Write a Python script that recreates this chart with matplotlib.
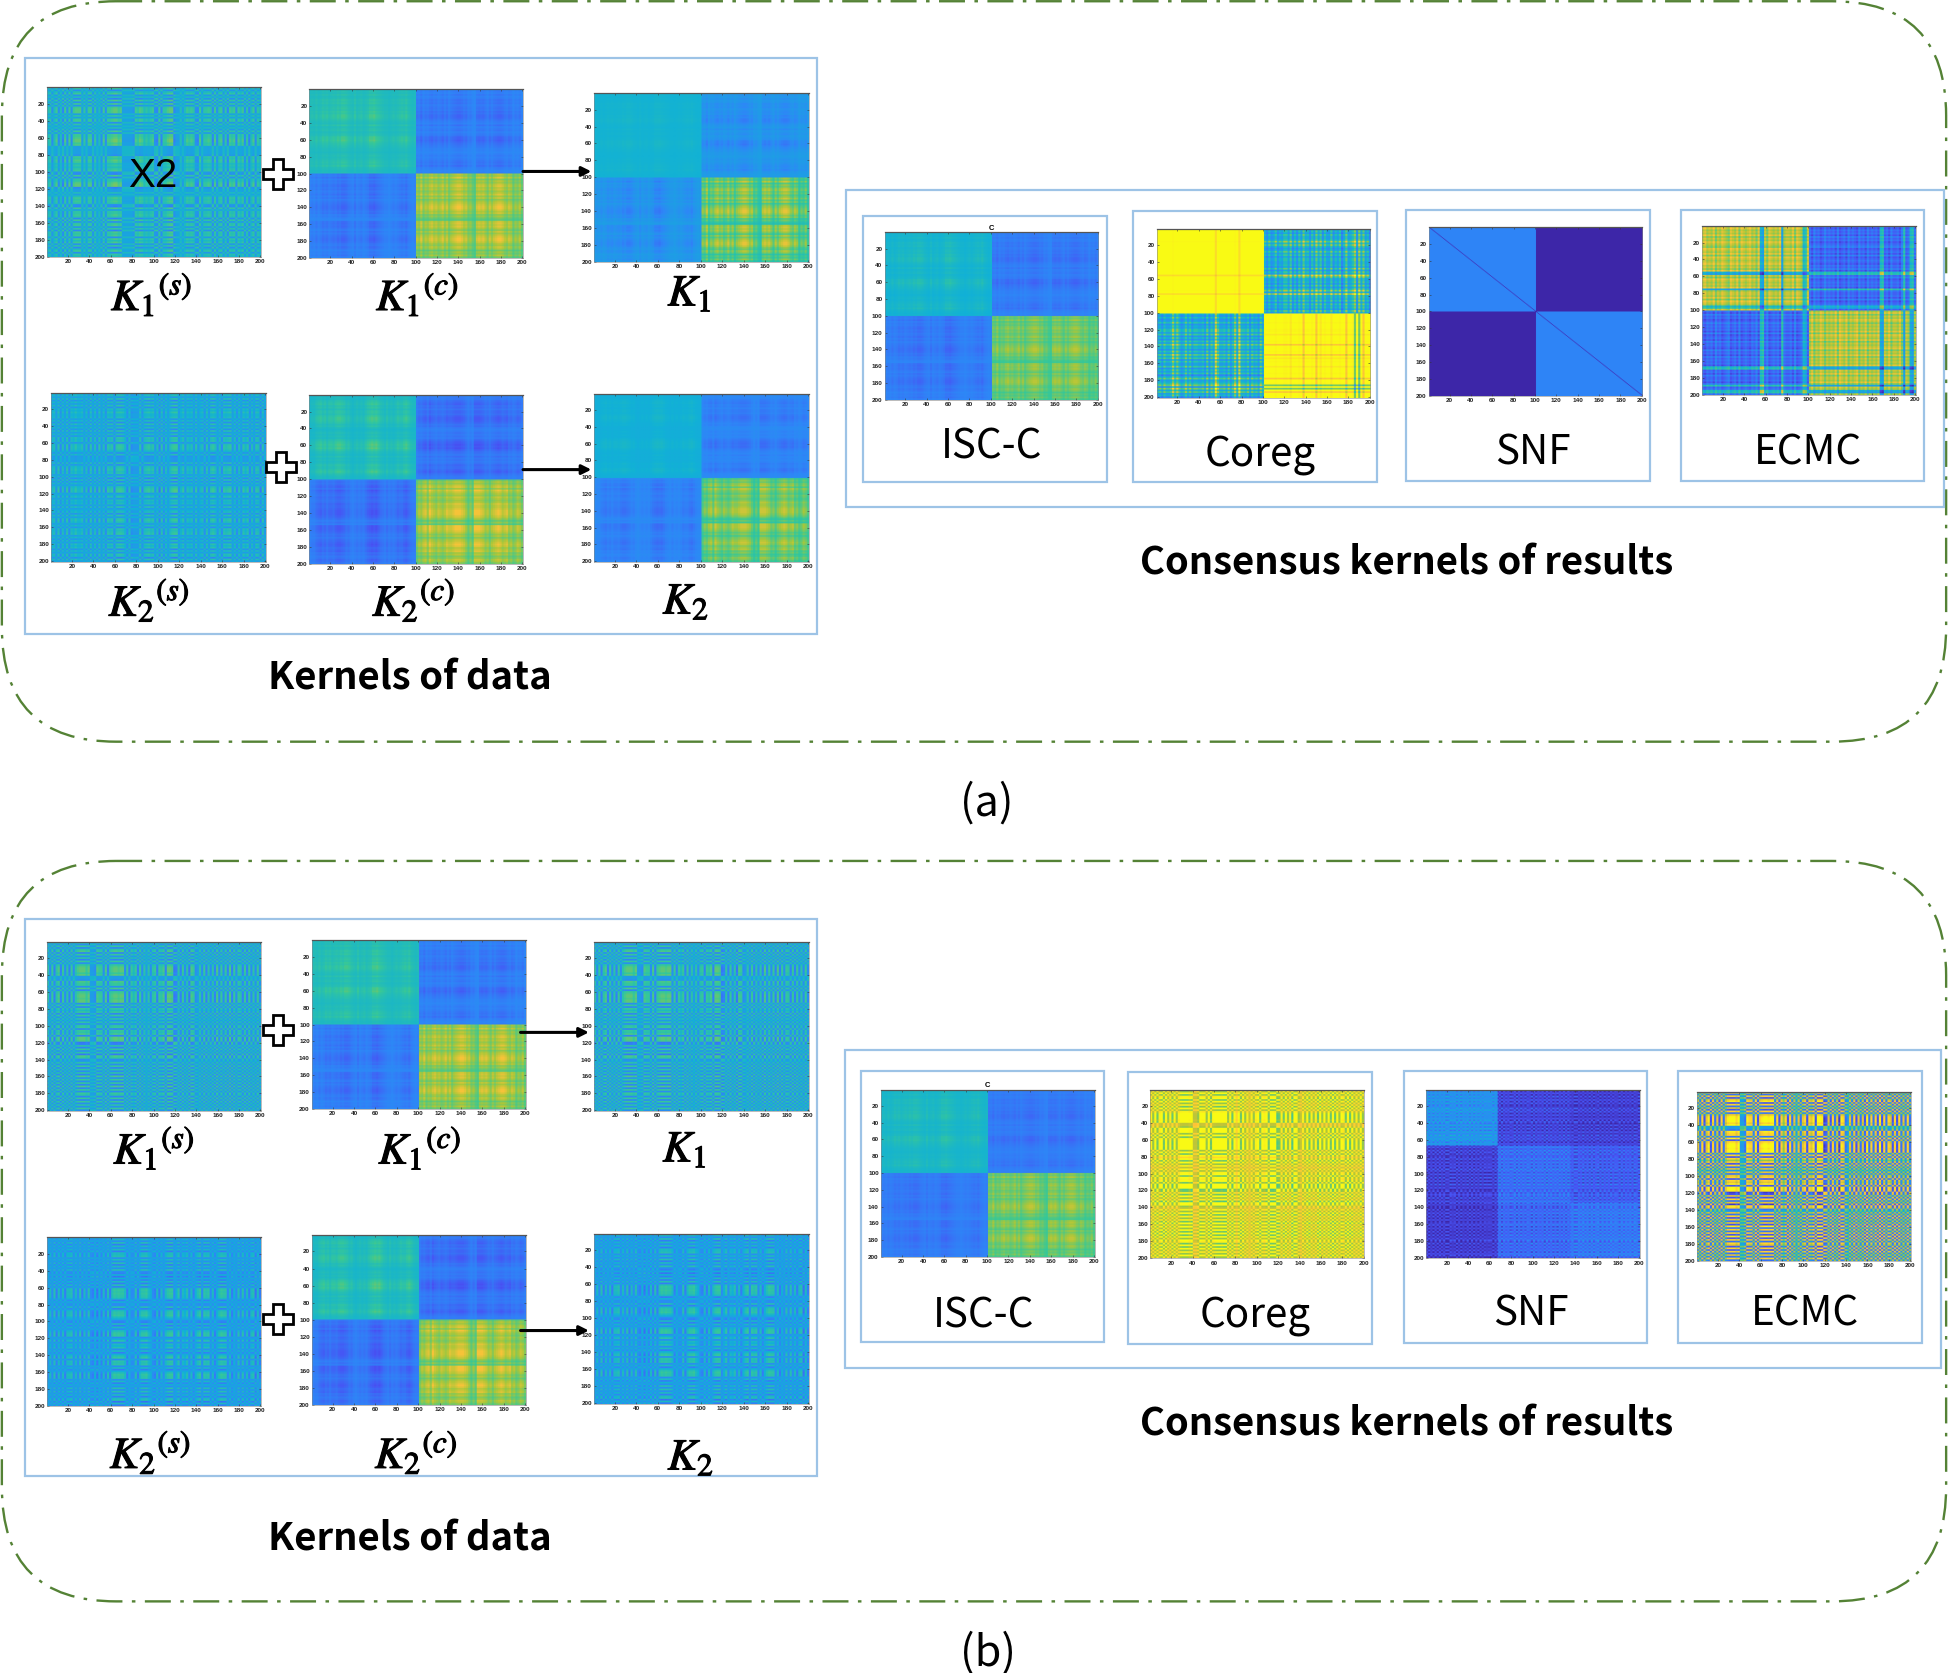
import numpy as np
import matplotlib
matplotlib.use("Agg")
import matplotlib.pyplot as plt
import matplotlib.patheffects as pe
from matplotlib.colors import LinearSegmentedColormap
from matplotlib.patches import FancyBboxPatch, Rectangle, Polygon, FancyArrowPatch

plt.rcParams['mathtext.fontset'] = 'stix'

W, H = 1948, 1673
SHEET_H = H * 1568 / W  # layout below is in units of a 1568-wide sheet

PARULA = [(0.2422, 0.1504, 0.6603), (0.2810, 0.3228, 0.9579), (0.1786, 0.5289, 0.9682),
          (0.0689, 0.6948, 0.8394), (0.2161, 0.7843, 0.5923), (0.6720, 0.7793, 0.2227),
          (0.9970, 0.7659, 0.2199), (0.9769, 0.9839, 0.0805)]

TICKS = list(range(20, 201, 20))

# stripe profiles, one digit per 2 samples (0 = most negative, 9 = most positive)
S_A1 = "5635735273" "7378884647" "7364537377" "8997844444" "3768756567" "3272668992" "4454576763" "2746676273" "6736276737" "5736257365"
S_A2 = "5647364736" "5755646374" "6374637673" "7887536344" "4736786746" "2736468994" "5746564745" "6374786463" "7678463647" "5736476274"
S_B1 = "6372682736" "2736899979" "4438773827" "8998993727" "5727364636" "7276829981" "2627361873" "4637263628" "3737282737" "6272736373"
S_B2 = "4647364636" "6746473647" "4352536373" "7989886354" "4736889654" "3636468994" "5846574635" "7948784635" "7988463547" "4746367263"
GRAIN_R = "2747163827" "5182736491" "3728164937" "1847362915" "7263849172" "6391728463" "2857163948" "7163928475" "3948271639" "8172639482"
GRAIN_C = "7162839471" "3958271648" "1726394857" "6283917462" "4917263851" "8264719362" "5173829461" "2649371825" "9172638475" "1836472951"

# cluster-kernel and line profiles, one digit per 2 samples (0 = low, 9 = high)
C_1 = "3435346564" "5657688754" "3634534588" "9765433234" "3456574323" "6584657867" "5685746789" "9867453278" "7864757899" "8657635463"
C_2 = "2335675646" "6578876453" "2343435789" "8975435343" "4655786433" "4657859765" "7656877899" "9875353999" "8756467898" "6785645764"
CO_LINES = "2314223736" "3125241332" "2315142952" "2314137293" "3241423152" "4252362436" "6372526384" "5263847263" "3725361483" "4692948351"
ECMC_LINES = "1021203120" "1230120301" "2102130891" "3012120921" "1203012761" "2031201312" "1203012031" "2103120312" "1208912031" "1203912892"

# panel levels: (base, product gain, line gain, line exponent) for first block, off-diagonal, second block
LV_K1C = [(.46, .16, 0, 1), (.31, -.14, 0, 1), (.56, .28, 0, 1)]
LV_K2C = [(.44, .18, 0, 1), (.30, -.16, 0, 1), (.54, .30, 0, 1)]
LV_K1A = [(.43, .04, 0, 1), (.38, -.14, 0, 1), (.46, .36, 0, 1)]
LV_K2A = [(.41, .06, 0, 1), (.32, -.11, 0, 1), (.49, .28, 0, 1)]
LV_ISC_A = [(.42, .12, 0, 1), (.30, -.12, 0, 1), (.54, .20, 0, 1)]
LV_ISC_B = [(.44, .11, 0, 1), (.29, -.10, 0, 1), (.55, .20, 0, 1)]
LV_COREG = [(1.0, 0, -.08, 8), (.15, .15, .35, 1), (1.0, 0, -.35, 8)]
LV_ECMC_A = [(.86, 0, -.42, 1), (.10, 0, .36, 1), (.86, 0, -.42, 1)]
LV_SNF_A = [(.28, 0, 0, 1), (.0, 0, 0, 1), (.28, 0, 0, 1)]
SNF_B_GRID = [[.32, .10, .08], [.09, .22, .17], [.07, .20, .24]]
GAIN_S = {'a1': (.43, .22), 'a2': (.40, .20), 'b1': (.42, .20), 'b2': (.37, .20),
          'coreg': (.83, .26), 'ecmc': (.52, .52)}


def digits(txt):
    p = (np.array([int(c) for c in txt], float) - 4.5) / 4.5
    return np.repeat(np.sign(p) * np.sqrt(np.abs(p)), 2)


def unit(txt):
    return np.repeat(np.array([int(c) for c in txt], float) / 9, 2)


def striped(txt, key):
    p = digits(txt)
    base, gain = GAIN_S[key]
    return base + gain * np.outer(p, p)


def blocks(txt, lv):
    p = unit(txt)
    diag1, off, diag2 = lv
    out = np.zeros((200, 200))
    prod = np.outer(p, p)
    for rows, cols, (b, g, l, k) in ((slice(0, 100), slice(0, 100), diag1), (slice(0, 100), slice(100, 200), off),
                                     (slice(100, 200), slice(0, 100), off), (slice(100, 200), slice(100, 200), diag2)):
        summ = p[:, None] ** k + p[None, :] ** k
        out[rows, cols] = (b + g * prod + l * summ)[rows, cols]
    return out


def snf_a():
    m = blocks(ECMC_LINES, LV_SNF_A)
    m[np.arange(200), np.arange(200)] = 0.03
    return m


def snf_b():
    counts = [67, 68, 65]
    grid = np.repeat(np.repeat(np.array(SNF_B_GRID), counts, axis=0), counts, axis=1)
    return grid + .10 * np.outer(digits(GRAIN_R), digits(GRAIN_C)) + .04 * digits(GRAIN_C)[:, None]


# ---- figure ---------------------------------------------------------------------
fig = plt.figure(figsize=(W / 100, H / 100), dpi=100, facecolor='white')
cmap = LinearSegmentedColormap.from_list('parula', PARULA)


def panel(x0, y0, x1, y1, m, title=None):
    ax = fig.add_axes([x0 / 1568, 1 - y1 / SHEET_H, (x1 - x0) / 1568, (y1 - y0) / SHEET_H], zorder=3)
    ax.imshow(m, cmap=cmap, vmin=0, vmax=1, aspect='auto', extent=(.5, 200.5, 200.5, .5),
              interpolation='bilinear', interpolation_stage='rgba')
    ax.set_xticks(TICKS)
    ax.set_yticks(TICKS)
    ax.tick_params(direction='in', length=1.5, width=.4, labelsize=4.6, pad=1.5, color='#333333',
                   top=True, right=True, labelcolor='#222222')
    for lb in ax.get_xticklabels() + ax.get_yticklabels():
        lb.set_fontfamily('Liberation Sans')
        lb.set_fontweight('bold')
    for name, sp in ax.spines.items():
        sp.set_linewidth(.9 if name == 'top' else .4)
        sp.set_color('#555555' if name == 'top' else '#888888')
    if title:
        ax.set_title(title, fontsize=5.5, pad=2, family='Liberation Sans', fontweight='bold')


a1, a2, b1, b2 = S_A1, S_A2, S_B1, S_B2
panel(38, 70, 210, 207, striped(a1, 'a1'))
panel(249, 72, 421, 208, blocks(C_1, LV_K1C))
panel(478, 75, 651, 211, blocks(C_1, LV_K1A))
panel(41, 316, 214, 452, striped(a2, 'a2'))
panel(249, 318, 421, 454, blocks(C_2, LV_K2C))
panel(478, 317, 651, 452, blocks(C_2, LV_K2A))
panel(712, 187, 884, 322, blocks(C_1, LV_ISC_A), 'C')
panel(931, 184, 1103, 320, blocks(CO_LINES, LV_COREG))
panel(1150, 183, 1322, 319, snf_a())
panel(1370, 182, 1542, 318, blocks(ECMC_LINES, LV_ECMC_A))

panel(38, 758, 210, 894, striped(b1, 'b1'))
panel(251, 757, 423, 893, blocks(C_1, LV_K1C))
panel(478, 758, 651, 894, striped(b1, 'b1'))
panel(38, 996, 210, 1132, striped(b2, 'b2'))
panel(251, 994, 423, 1131, blocks(C_2, LV_K2C))
panel(478, 993, 651, 1130, striped(b2, 'b2'))
panel(709, 877, 881, 1012, blocks(C_1, LV_ISC_B), 'C')
panel(926, 877, 1098, 1013, striped(b1, 'coreg'))
panel(1148, 877, 1320, 1013, snf_b())
panel(1366, 879, 1538, 1015, striped(b1, 'ecmc'))

ov = fig.add_axes([0, 0, 1, 1], zorder=1)
ov.set_xlim(0, 1568)
ov.set_ylim(SHEET_H, 0)
ov.axis('off')
top = fig.add_axes([0, 0, 1, 1], zorder=5)
top.set_xlim(0, 1568)
top.set_ylim(SHEET_H, 0)
top.axis('off')
top.patch.set_alpha(0)

GREEN, BLUE = '#548235', '#9DC3E6'
for y0, y1 in ((1, 597), (693, 1289)):
    ov.add_patch(FancyBboxPatch((1.5, y0), 1565, y1 - y0, boxstyle='round,pad=0,rounding_size=92',
                                fc='none', ec=GREEN, lw=1.7, ls=(0, (11, 4, 1.5, 4))))
for x0, y0, x1, y1 in ((20, 47, 658, 510), (681, 153, 1565, 408), (695, 174, 891, 388), (912, 170, 1108, 388),
                       (1132, 169, 1328, 387), (1353, 169, 1549, 387),
                       (20, 740, 658, 1188), (680, 845, 1562, 1101), (693, 862, 889, 1080), (908, 863, 1104, 1082),
                       (1130, 862, 1326, 1081), (1351, 862, 1547, 1081)):
    ov.add_patch(Rectangle((x0, y0), x1 - x0, y1 - y0, fc='none', ec=BLUE, lw=1.6))

BOLD = dict(family='Noto Sans CJK SC', fontweight='bold', ha='center', va='center', color='black')
REG = dict(family='Noto Sans CJK SC', ha='center', va='center', color='black')
for x, y, t in ((330, 546, 'Kernels of data'), (1132, 453, 'Consensus kernels of results'),
                (330, 1239, 'Kernels of data'), (1132, 1146, 'Consensus kernels of results')):
    top.text(x, y, t, fontsize=27.5, **BOLD)
for x, y, t in ((794, 647, '(a)'), (795, 1331, '(b)')):
    top.text(x, y, t, fontsize=31, **REG)
for x, y, t in ((798, 360, 'ISC-C'), (1014, 367, 'Coreg'), (1234, 365, 'SNF'), (1455, 365, 'ECMC'),
                (792, 1059, 'ISC-C'), (1010, 1060, 'Coreg'), (1232, 1058, 'SNF'), (1453, 1058, 'ECMC')):
    top.text(x, y, t, fontsize=29, **REG)
top.text(123, 142, 'X2', fontsize=29, family='Liberation Sans', ha='center', va='center', color='black', zorder=6)

MATH = dict(fontsize=32, ha='center', va='center', color='black',
            path_effects=[pe.withStroke(linewidth=.8, foreground='black')])
for x, y, t in ((122, 238, r'$K_1{}^{(s)}$'), (336, 238, r'$K_1{}^{(c)}$'), (555, 236, r'$K_1$'),
                (120, 484, r'$K_2{}^{(s)}$'), (333, 484, r'$K_2{}^{(c)}$'), (552, 484, r'$K_2$'),
                (124, 925, r'$K_1{}^{(s)}$'), (338, 925, r'$K_1{}^{(c)}$'), (551, 925, r'$K_1$'),
                (121, 1170, r'$K_2{}^{(s)}$'), (335, 1170, r'$K_2{}^{(c)}$'), (556, 1173, r'$K_2$')):
    top.text(x, y, t, **MATH)

CROSS = np.array([(-4, -12), (4, -12), (4, -4), (12, -4), (12, 4), (4, 4), (4, 12), (-4, 12), (-4, 4), (-12, 4),
                  (-12, -4), (-4, -4)], float)
for cx, cy in ((224, 140), (226, 376), (224, 829), (224, 1062)):
    top.add_patch(Polygon(CROSS + (cx, cy), closed=True, fc='white', ec='black', lw=2))
for x0, x1, y in ((421, 476, 138), (421, 476, 378), (419, 474, 831), (419, 474, 1071)):
    top.add_patch(FancyArrowPatch((x0, y), (x1, y), arrowstyle='-|>', mutation_scale=14, color='black',
                                  lw=2.2, shrinkA=0, shrinkB=0))

fig.savefig('out.png', dpi=100, facecolor='white')
